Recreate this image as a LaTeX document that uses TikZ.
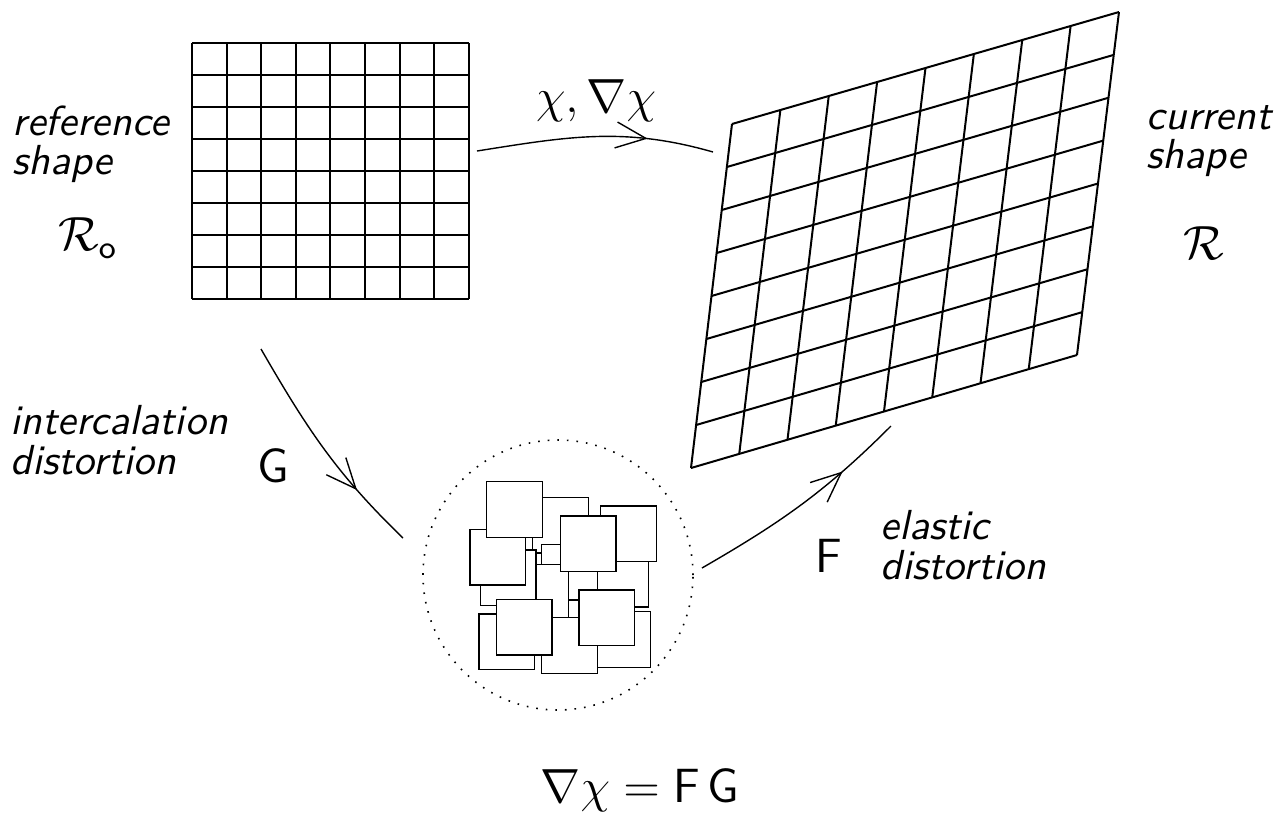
\documentclass[tikz,border=0pt]{standalone}
\usepackage{amsmath,amssymb}
\usetikzlibrary{arrows.meta,calc,decorations.markings}

\begin{document}
\begin{tikzpicture}[
    x=0.25pt, y=-0.25pt,
    lbl/.style={font=\sffamily\itshape\fontsize{10.5}{9.8}\selectfont, align=left,
                inner sep=0pt},
    sym/.style={font=\fontsize{12}{14}\selectfont, inner sep=0pt},
    grd/.style={line width=0.5pt},
    tile/.style={draw, fill=white, line width=0.35pt},
    arr/.style={line width=0.35pt, postaction={decorate},
                decoration={markings, mark=at position 0.72 with
                  {\arrow{Straight Barb[length=7.5pt,width=6.5pt]}}}}
  ]
  \useasboundingbox (0,0) rectangle (1279,827);

  % reference shape: square grid
  \foreach \i in {0,...,8} {
    \draw[grd] (192+34.625*\i,43) -- (192+34.625*\i,299);
    \draw[grd] (192,43+32*\i) -- (469,43+32*\i);
  }

  % current shape: sheared grid
  \coordinate (tl) at (732,124);
  \coordinate (tr) at (1119,12);
  \coordinate (bl) at (691,468);
  \coordinate (br) at (1077,355);
  \foreach \i in {0,...,8} {
    \draw[grd] ($(tl)!\i/8!(tr)$) -- ($(bl)!\i/8!(br)$);
    \draw[grd] ($(tl)!\i/8!(bl)$) -- ($(tr)!\i/8!(br)$);
  }

  % intermediate state: pile of squares
  \node[draw, dotted, circle, minimum size=67.5pt, inner sep=0pt] (pile) at (558,575) {};
  \foreach \x/\y in {532.7/497.3, 592.7/551.3, 541.7/544.3, 512.7/564.3,
                     480.3/550.0, 594.7/611.7, 541.7/617.7, 479.0/614.0,
                     600.7/506.0, 470.0/529.3, 486.7/481.7, 560.3/516.0,
                     496.3/599.3, 579.0/590.0}
    \draw[tile] (\x,\y) rectangle ++(55.7,55.7);

  % labels
  \node[lbl, anchor=north west] (reflbl) at (12,105) {reference\\shape};
  \node[sym] (rzero) at (88,238) {$\mathcal{R}_\mathsf{o}$};
  \node[lbl, anchor=north west] (curlbl) at (1146,105) {current\\shape};
  \node[sym] (rcur) at (1204,243) {$\mathcal{R}$};
  \node[sym] (chi) at (596,101) {$\chi,\nabla\chi$};
  \node[lbl, anchor=north west] (intlbl) at (10,405) {intercalation\\distortion};
  \node[sym] (gmap) at (273,466) {$\mathsf{G}$};
  \node[sym] (fmap) at (829,556) {$\mathsf{F}$};
  \node[lbl, anchor=north west] (elalbl) at (880,510) {elastic\\distortion};
  \node[sym] (eq) at (640,790) {$\nabla\chi=\mathsf{F}\,\mathsf{G}$};

  % maps
  \coordinate (chiA) at (477,151);
  \coordinate (chiB) at (713,152);
  \coordinate (gA) at (261,349);
  \coordinate (gB) at (403,538);
  \coordinate (fA) at (702,568);
  \coordinate (fB) at (891,426);
  \draw[arr] (chiA) to[out=9,in=164] (chiB);
  \draw[arr] (gA) to[out=-60,in=136] (gB);
  \draw[arr] (fA) to[out=30,in=225] (fB);
\end{tikzpicture}
\end{document}
